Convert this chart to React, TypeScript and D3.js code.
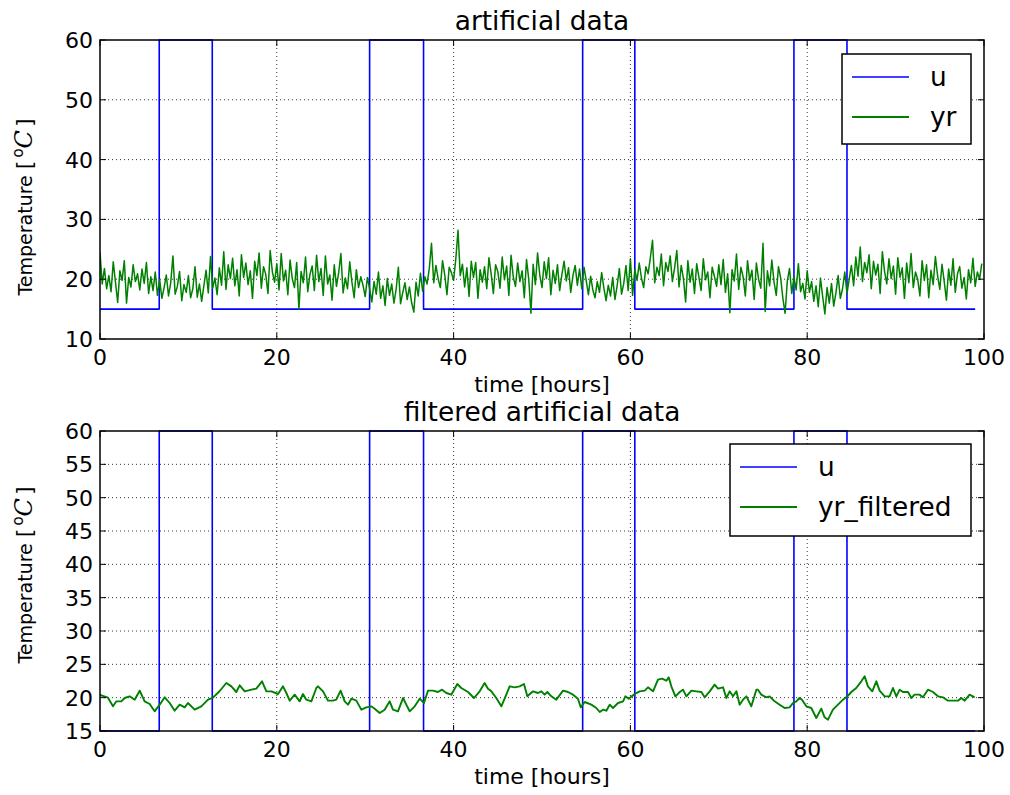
import React from 'react';
import * as d3 from 'd3';

const W = 1010;
const H = 795;

// heater input u: switching times (hours) and the level held from each one
const uTimes = [0, 6.7, 12.7, 30.5, 36.6, 54.6, 60.5, 78.5, 84.5, 99];
const uLevels = [15, 60, 15, 60, 15, 60, 15, 60, 15, 15];

// raw measurement yr, one value every 0.25 h from 0 h
const yrStep = 0.25;
const yr = [
  24.5, 19.2, 21.8, 18.4, 20.6, 17.9, 22.9, 19.5, 16.1, 21.4, 19.8, 23.1, 16.0, 20.3, 18.7, 22.4, 19.6, 20.9, 18.2, 21.7,
  19.3, 22.8, 17.6, 20.4, 18.1, 21.2, 17.3, 19.9, 16.8, 18.6, 20.7, 17.2, 19.4, 23.9, 17.5, 18.8, 21.3, 16.4, 19.1, 17.8,
  20.6, 16.9, 18.4, 22.1, 17.0, 19.2, 16.3, 18.9, 21.5, 17.7, 23.8, 18.5, 20.2, 17.4, 21.9, 19.0, 24.6, 18.3, 22.4, 20.1,
  23.5, 18.9, 21.6, 17.2, 24.1, 20.3, 22.7, 19.1, 21.4, 16.8, 23.0, 20.6, 24.4, 18.5, 22.1, 20.8, 17.6, 24.8, 21.2, 19.5,
  22.6, 18.2, 24.3, 19.7, 21.5, 17.4, 23.2, 20.1, 18.6, 22.8, 15.0, 21.3, 19.4, 23.7, 17.9, 20.8, 22.2, 18.1, 24.0, 19.6,
  21.8, 17.3, 23.9, 19.2, 20.7, 16.5, 22.4, 18.8, 21.1, 24.3, 17.7, 20.2, 18.4, 22.9, 19.5, 16.9, 21.6, 18.6, 20.4, 19.0,
  17.1, 20.3, 18.4, 16.2, 19.6, 17.5, 21.2, 16.8, 18.9, 15.6, 20.1, 17.3, 19.2, 16.0, 18.3, 22.0, 15.9, 17.8, 19.4, 16.6,
  18.7, 16.1, 14.5, 19.5, 17.2, 21.0, 18.0, 20.4, 19.2, 21.8, 26.0, 19.4, 22.3, 20.1, 18.6, 23.1, 20.7, 17.4, 22.0, 21.1,
  19.8, 23.4, 28.2, 20.6, 22.5, 18.7, 21.9, 17.1, 23.0, 20.3, 22.8, 16.8, 21.6, 19.5, 22.1, 18.4, 23.6, 20.9, 17.6, 22.4,
  21.3, 18.5, 23.7, 19.9, 22.2, 17.3, 24.0, 20.4, 18.8, 22.7, 19.6, 21.4, 16.9, 23.3, 20.0, 14.3, 22.5, 19.1, 24.4, 20.7,
  18.6, 22.9, 20.1, 23.6, 17.4, 21.5, 19.3, 22.4, 18.1, 20.8, 23.0, 19.7, 21.9, 17.8, 20.6, 22.3, 19.0, 21.7, 18.4, 22.0,
  19.8, 17.4, 20.5, 18.2, 16.9, 19.6, 17.8, 21.1, 18.5, 16.4, 19.0, 17.2, 20.3, 16.6, 18.9, 21.8, 17.5, 19.3, 22.3, 18.1,
  23.4, 17.3, 21.6, 19.8, 22.7, 20.2, 18.6, 22.1, 20.9, 23.5, 26.5, 19.4, 22.0, 20.6, 24.2, 18.9, 22.8, 21.3, 23.9, 19.6,
  21.9, 24.8, 18.7, 22.3, 20.1, 16.2, 23.1, 19.5, 21.7, 17.6, 22.6, 20.3, 18.1, 23.4, 19.9, 21.2, 16.9, 22.0, 20.5, 18.8,
  22.4, 19.1, 23.3, 17.8, 20.9, 14.4, 21.6, 19.7, 24.2, 18.3, 22.0, 20.4, 17.2, 23.1, 19.8, 21.5, 16.6, 22.7, 20.0, 18.5,
  26.0, 14.6, 21.4, 18.9, 23.2, 19.5, 17.3, 22.1, 20.2, 16.8, 14.3, 19.7, 21.8, 17.6, 20.4, 18.2, 22.6, 17.9, 19.3, 16.7,
  21.4, 17.8, 19.6, 16.3, 18.9, 15.4, 20.2, 17.1, 14.2, 18.6, 16.0, 19.3, 15.5, 17.7, 20.6, 16.8, 18.4, 21.2, 17.6, 20.0,
  22.3, 18.9, 23.7, 20.5, 25.4, 19.6, 22.8, 21.1, 24.1, 18.4, 23.0, 20.7, 22.5, 17.6, 24.6, 21.3, 19.2, 23.4, 20.1, 22.2,
  17.5, 23.6, 20.3, 21.9, 16.8, 22.7, 19.4, 24.3, 18.6, 21.2, 20.0, 17.2, 23.1, 19.8, 22.4, 16.9, 21.5, 19.1, 23.8, 20.6,
  18.3, 22.5, 19.6, 16.5, 21.7, 19.0, 23.4, 17.8, 20.9, 22.1, 18.5, 20.3, 16.7, 21.6, 19.4, 23.5, 18.8, 21.2, 20.0, 22.6,
];

// filtered measurement yr_filtered
const filtHours = [
  0, 0.9, 1.47, 1.85, 2.41, 2.79, 3.36, 3.92, 4.49, 5.05, 5.62, 6.18, 6.75, 7.32, 7.88, 8.45, 9.01, 9.58, 9.95, 10.71,
  11.46, 12.22, 12.78, 13.54, 14.29, 14.86, 15.42, 15.8, 16.37, 17.12, 17.68, 18.33, 18.82, 19.38, 20.14, 20.7, 21.08,
  21.46, 22.02, 22.59, 22.96, 23.34, 23.91, 24.47,
  24.66, 25.23, 25.79, 26.36, 26.73, 27.22, 27.68, 28.05, 28.43, 29.0, 29.56, 30.13, 30.69, 31.07, 31.64, 32.2, 32.77,
  33.14, 33.71, 34.28, 34.65, 35.03, 35.6, 36.16, 36.65, 37.1, 37.67, 38.23, 38.69, 39.18, 39.74, 40.42, 40.87, 41.63,
  42.31, 42.95, 43.51, 43.89, 44.27, 44.83, 45.4, 45.96, 46.34, 46.91, 47.47, 47.96, 48.34, 48.98,
  49.55, 49.93, 50.3, 50.61, 51.06, 51.62, 52.38, 52.94, 53.51, 54.07, 54.38, 54.83, 55.58, 56.15, 56.53, 56.9, 57.28,
  57.66, 58.03, 58.6, 59.17, 59.43, 59.81, 60.48, 61.05, 61.62, 61.99, 62.56, 63.12, 63.58, 64.07, 64.33, 64.63, 65.09,
  65.58, 65.95, 66.33, 66.9, 67.46, 68.03, 68.4, 68.97, 69.53, 69.91, 70.48, 70.85, 71.23, 71.61, 71.99, 72.36, 72.74,
  73.12, 73.68, 74.25,
  74.43, 74.81, 75.37, 75.75, 76.32, 76.88, 77.45, 78.01, 78.39, 78.77, 79.14, 79.41, 79.9, 80.46, 81.03, 81.59, 81.97,
  82.35, 82.91, 83.48, 84.05, 84.54, 84.99, 85.55, 86.12, 86.5, 86.87, 87.36, 87.82, 88.19, 88.76, 89.32, 89.7, 90.08,
  90.46, 90.83, 91.4, 91.78, 92.15, 92.72, 93.09, 93.66, 94.23, 94.79, 95.36, 95.92, 96.49, 97.05, 97.43, 97.81, 98.37,
  98.94,
];
const filtValues = [
  20.4, 20.0, 18.7, 19.45, 19.45, 19.95, 20.2, 19.7, 21.05, 19.45, 19.05, 17.95, 18.95, 20.05, 19.2, 18.05, 18.95, 18.55,
  19.2, 18.2, 18.7, 19.7, 20.0, 21.0, 22.2, 21.7, 20.85, 21.85, 20.95, 21.2, 21.35, 22.45, 20.95, 20.95, 20.55, 21.7,
  20.7, 19.55, 20.45, 19.45, 20.55, 19.7, 19.45, 21.45,
  21.7, 20.95, 19.55, 19.55, 19.7, 21.05, 19.45, 18.95, 19.85, 19.55, 18.2, 18.55, 18.7, 18.35, 17.7, 18.2, 19.45,
  18.2, 17.95, 19.95, 18.95, 17.95, 18.7, 19.85, 19.2, 21.05, 21.05, 20.85, 21.2, 20.7, 20.45, 22.05, 21.45, 20.85,
  19.95, 20.95, 22.2, 21.35, 20.95, 19.95, 18.7, 20.45, 21.7, 21.55, 21.7, 22.05, 20.2, 20.95,
  20.7, 20.95, 20.45, 20.85, 20.2, 19.7, 21.05, 20.85, 20.45, 19.85, 18.55, 19.35, 18.95, 18.45, 17.85, 18.2, 18.05,
  18.95, 18.45, 19.2, 19.45, 20.2, 19.85, 20.55, 20.95, 21.05, 21.55, 20.95, 22.7, 22.85, 22.55, 23.05, 21.7, 20.2,
  20.85, 21.2, 20.2, 21.05, 20.95, 20.85, 20.05, 20.95, 21.95, 21.35, 21.55, 19.95, 20.95, 20.2, 20.95, 18.95, 19.7,
  20.2, 18.7, 21.2,
  21.2, 20.45, 20.05, 20.2, 19.45, 18.95, 18.45, 18.55, 19.2, 19.45, 19.95, 19.7, 18.7, 18.45, 16.95, 18.35, 17.05,
  16.7, 18.2, 18.95, 19.7, 20.2, 20.85, 21.45, 22.45, 23.2, 21.7, 20.95, 22.45, 21.05, 20.2, 20.2, 21.45, 20.2,
  21.2, 20.85, 20.85, 19.95, 20.45, 20.45, 20.05, 21.2, 20.85, 20.2, 20.05, 19.55, 19.55, 19.55, 19.95, 19.55, 20.45,
  20.05,
];

const xTicks = [0, 20, 40, 60, 80, 100];
const topYTicks = [10, 20, 30, 40, 50, 60];
const bottomYTicks = [15, 20, 25, 30, 35, 40, 45, 50, 55, 60];

const FONT = 'DejaVu Sans, Bitstream Vera Sans, sans-serif';
const BLUE = '#0000ff';
const GREEN = '#008000';

type Pt = [number, number];

const uPoints: Pt[] = uTimes.map((t, i) => [t, uLevels[i]]);
const yrPoints: Pt[] = yr.map((v, i) => [i * yrStep, v]);
const filtPoints: Pt[] = filtHours.map((t, i) => [t, filtValues[i]]);

interface PanelProps {
  id: string;
  top: number;
  bottom: number;
  yDomain: [number, number];
  yTicks: number[];
  title: string;
  green: Pt[];
  greenWidth: number;
  greenLabel: string;
  legend: { x: number; y: number; w: number; h: number };
  yLabelY: number;
}

function Panel(p: PanelProps) {
  const left = 100;
  const right = 984;
  const x = d3.scaleLinear().domain([0, 100]).range([left, right]);
  const y = d3.scaleLinear().domain(p.yDomain).range([p.bottom, p.top]);
  const line = d3.line<Pt>().x(d => x(d[0])).y(d => y(d[1]));
  const stepLine = d3.line<Pt>().x(d => x(d[0])).y(d => y(d[1])).curve(d3.curveStepAfter);
  const tick = 6;
  const lg = p.legend;

  return (
    <g>
      <defs>
        <clipPath id={p.id}>
          <rect x={left} y={p.top - 1} width={right - left} height={p.bottom - p.top + 2} />
        </clipPath>
      </defs>
      <rect x={left} y={p.top} width={right - left} height={p.bottom - p.top} fill="#fff" />
      {/* grid */}
      <g stroke="#000" strokeWidth={0.8} strokeDasharray="1,3">
        {xTicks.filter(t => t > 0 && t < 100).map(t => (
          <line key={'gx' + t} x1={x(t)} x2={x(t)} y1={p.top} y2={p.bottom} />
        ))}
        {p.yTicks.filter(t => t > p.yDomain[0] && t < p.yDomain[1]).map(t => (
          <line key={'gy' + t} x1={left} x2={right} y1={y(t)} y2={y(t)} />
        ))}
      </g>
      <g clipPath={`url(#${p.id})`} fill="none" strokeLinejoin="round">
        <path d={stepLine(uPoints) || ''} stroke={BLUE} strokeWidth={1.6} />
        <path d={line(p.green) || ''} stroke={GREEN} strokeWidth={p.greenWidth} />
      </g>
      {/* ticks, inward on all sides */}
      <g stroke="#000" strokeWidth={1}>
        {xTicks.map(t => (
          <g key={'tx' + t}>
            <line x1={x(t)} x2={x(t)} y1={p.bottom} y2={p.bottom - tick} />
            <line x1={x(t)} x2={x(t)} y1={p.top} y2={p.top + tick} />
          </g>
        ))}
        {p.yTicks.map(t => (
          <g key={'ty' + t}>
            <line x1={left} x2={left + tick} y1={y(t)} y2={y(t)} />
            <line x1={right} x2={right - tick} y1={y(t)} y2={y(t)} />
          </g>
        ))}
      </g>
      <rect x={left} y={p.top} width={right - left} height={p.bottom - p.top} fill="none" stroke="#000" strokeWidth={1.5} />
      <g fontFamily={FONT} fontSize={22} fill="#000">
        {xTicks.map(t => (
          <text key={'lx' + t} x={x(t)} y={p.bottom + 26} textAnchor="middle">{t}</text>
        ))}
        {p.yTicks.map(t => (
          <text key={'ly' + t} x={left - 7} y={y(t)} dy="0.36em" textAnchor="end">{t}</text>
        ))}
        <text x={(left + right) / 2} y={p.bottom + 53} textAnchor="middle">time [hours]</text>
      </g>
      <text x={(left + right) / 2} y={p.top - 10} textAnchor="middle" fontFamily={FONT} fontSize={26.4}>{p.title}</text>
      <text transform={`translate(32,${p.yLabelY}) rotate(-90)`} textAnchor="middle" fontFamily={FONT} fill="#000">
        <tspan fontSize={19}>Temperature </tspan>
        <tspan fontSize={22}>[</tspan>
        <tspan fontSize={15} dx={3} dy={-9}>o</tspan>
        <tspan fontSize={24} fontStyle="italic" fontFamily="DejaVu Serif, serif" dy={9}>C</tspan>
        <tspan fontSize={22} dx={3}>]</tspan>
      </text>
      {/* legend */}
      <g>
        <rect x={lg.x} y={lg.y} width={lg.w} height={lg.h} fill="#fff" stroke="#000" strokeWidth={1.5} />
        <line x1={lg.x + 10} x2={lg.x + 67} y1={lg.y + 23} y2={lg.y + 23} stroke={BLUE} strokeWidth={1.6} />
        <line x1={lg.x + 10} x2={lg.x + 67} y1={lg.y + 63} y2={lg.y + 63} stroke={GREEN} strokeWidth={1.8} />
        <g fontFamily={FONT} fontSize={26.4} fill="#000">
          <text x={lg.x + 88} y={lg.y + 32}>u</text>
          <text x={lg.x + 88} y={lg.y + 72}>{p.greenLabel}</text>
        </g>
      </g>
    </g>
  );
}

export default function App() {
  return (
    <svg width={W} height={H} style={{ position: 'absolute', left: 0, top: 0, background: '#fff' }}>
      <rect width={W} height={H} fill="#fff" />
      <Panel
        id="clipTop"
        top={40}
        bottom={339}
        yDomain={[10, 60]}
        yTicks={topYTicks}
        title="artificial data"
        green={yrPoints}
        greenWidth={1.5}
        greenLabel="yr"
        legend={{ x: 842, y: 54, w: 129, h: 90 }}
        yLabelY={207}
      />
      <Panel
        id="clipBottom"
        top={431}
        bottom={731}
        yDomain={[15, 60]}
        yTicks={bottomYTicks}
        title="filtered artificial data"
        green={filtPoints}
        greenWidth={1.9}
        greenLabel="yr_filtered"
        legend={{ x: 730, y: 444, w: 241, h: 92 }}
        yLabelY={575}
      />
    </svg>
  );
}
